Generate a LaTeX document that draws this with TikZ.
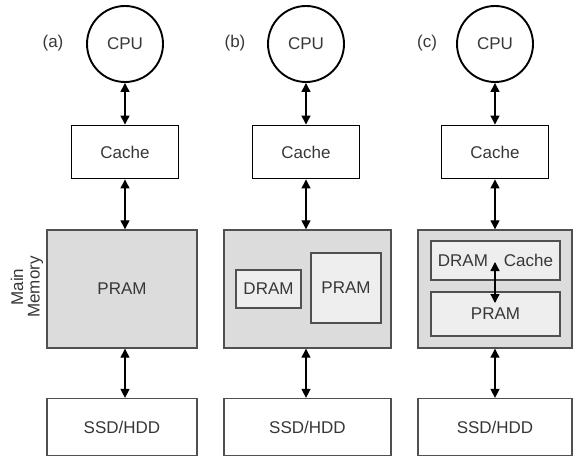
\documentclass[tikz,border=0pt]{standalone}
\usepackage{fontspec}
\setmainfont{Liberation Sans}
\usetikzlibrary{positioning,arrows.meta}
\definecolor{memgray}{RGB}{220,220,220}
\definecolor{innergray}{RGB}{238,238,238}
\definecolor{edgegray}{RGB}{80,80,80}
\definecolor{textgray}{RGB}{55,55,55}

\begin{document}
\begin{tikzpicture}[x=1pt,y=-1pt,font=\fontsize{17}{16.5}\selectfont]
\tikzstyle{cpu}=[circle, minimum size=76pt, inner sep=0pt, line width=1.9pt, draw=black, text=textgray]
\tikzstyle{cache}=[rectangle, minimum width=107pt, minimum height=53pt, line width=1.9pt, draw=black, text=textgray]
\tikzstyle{memory}=[rectangle, minimum height=118pt, line width=1.4pt, draw=edgegray, fill=memgray, text=textgray]
\tikzstyle{inner}=[rectangle, line width=1.4pt, draw=edgegray, fill=innergray, text=textgray]
\tikzstyle{disk}=[rectangle, minimum height=57pt, line width=1.2pt, draw=edgegray, text=textgray]
\tikzstyle{tag}=[text=textgray]
\tikzstyle{connect}=[{Triangle[length=9pt,width=9pt]}-{Triangle[length=9pt,width=9pt]}, line width=1.3pt]

\useasboundingbox (0,0) rectangle (573,457);

\node[tag, rotate=90, align=center] (mainmem) at (27,287) {Main\\Memory};

% (a)
\node[tag] (lab_a) at (53,43) {(a)};
\node[cpu] (cpu_a) at (125,44) {CPU};
\node[cache] (cache_a) at (125,152) {Cache};
\node[memory, minimum width=150pt] (mem_a) at (122,289) {PRAM};
\node[disk, minimum width=150pt] (ssd_a) at (122,427) {SSD/HDD};

% (b)
\node[tag] (lab_b) at (235,43) {(b)};
\node[cpu] (cpu_b) at (306,44) {CPU};
\node[cache] (cache_b) at (306,152) {Cache};
\node[memory, minimum width=167pt] (mem_b) at (307.5,289) {};
\node[inner, minimum width=65pt, minimum height=38pt] (dram_b) at (268.5,289) {DRAM};
\node[inner, minimum width=70pt, minimum height=70pt] (pram_b) at (346,288) {PRAM};
\node[disk, minimum width=167pt] (ssd_b) at (307.5,427) {SSD/HDD};

% (c)
\node[tag] (lab_c) at (427,43) {(c)};
\node[cpu] (cpu_c) at (495,44) {CPU};
\node[cache] (cache_c) at (495,152) {Cache};
\node[memory, minimum width=154pt] (mem_c) at (495,289) {};
\node[inner, minimum width=129pt, minimum height=39pt] (dcache_c) at (495.5,260.5) {DRAM\hspace{16pt}Cache};
\node[inner, minimum width=129pt, minimum height=44pt] (pram_c) at (495.5,314) {PRAM};
\node[disk, minimum width=154pt] (ssd_c) at (495,427) {SSD/HDD};
\coordinate (dc_top) at (495,262);
\coordinate (dc_bot) at (495,303);

\path
	(cpu_a) edge[connect] (cache_a)
	(cache_a) edge[connect] (cache_a |- mem_a.north)
	(cache_a |- mem_a.south) edge[connect] (cache_a |- ssd_a.north)
	(cpu_b) edge[connect] (cache_b)
	(cache_b) edge[connect] (cache_b |- mem_b.north)
	(cache_b |- mem_b.south) edge[connect] (cache_b |- ssd_b.north)
	(cpu_c) edge[connect] (cache_c)
	(cache_c) edge[connect] (cache_c |- mem_c.north)
	(cache_c |- mem_c.south) edge[connect] (cache_c |- ssd_c.north)
	(dc_top) edge[connect] (dc_bot);

\end{tikzpicture}
\end{document}
